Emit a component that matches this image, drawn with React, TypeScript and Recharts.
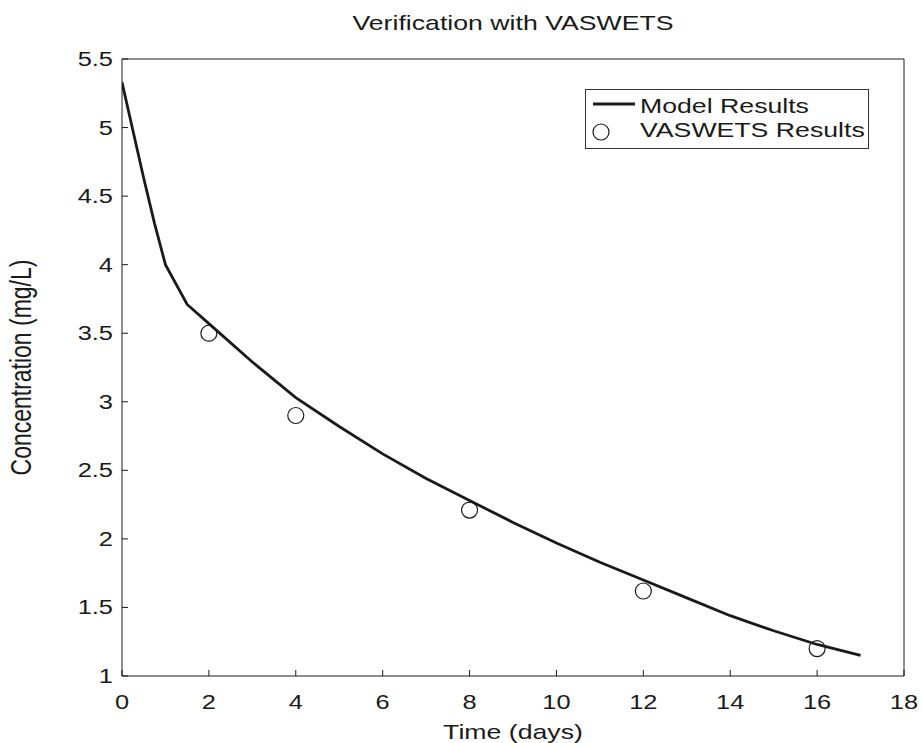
import {
  ComposedChart, Line, Scatter, XAxis, YAxis, Legend, Label,
} from 'recharts'

// Model curve
const modelDays = [0, 0.25, 0.5, 0.75, 1, 1.5, 2, 3, 4, 5, 6, 7, 8, 9, 10, 11, 12, 13, 14, 15, 16, 17]
const modelConc = [5.33, 4.98, 4.63, 4.3, 4.0, 3.71, 3.57, 3.29, 3.03, 2.82, 2.62, 2.44, 2.28, 2.12, 1.97, 1.83, 1.7, 1.57, 1.44, 1.33, 1.23, 1.15]

// VASWETS points
const vasDays = [2, 4, 8, 12, 16]
const vasConc = [3.5, 2.9, 2.21, 1.62, 1.2]

const xTicks = [0, 2, 4, 6, 8, 10, 12, 14, 16, 18]
const yTicks = [1, 1.5, 2, 2.5, 3, 3.5, 4, 4.5, 5, 5.5]

const modelData = modelDays.map((d, i) => ({ day: d, conc: modelConc[i] }))
const vasData = vasDays.map((d, i) => ({ day: d, conc: vasConc[i] }))

const FONT = '"Liberation Sans", Arial, Helvetica, sans-serif'
const INK = '#1a1a1a'
// the scan is stretched sideways, so the text gets widened to match
const SX = 1.27

function WideText({ x, y, anchor = 'middle', size = 21, children }: {
  x: number; y: number; anchor?: 'start' | 'middle' | 'end'; size?: number; children: string
}) {
  return (
    <text
      transform={`translate(${x},${y}) scale(${SX},1)`}
      textAnchor={anchor} fontFamily={FONT} fontSize={size} fill={INK}
    >
      {children}
    </text>
  )
}

function XTick({ x, y, payload }: any) {
  return <WideText x={x} y={y + 39} size={20}>{String(payload.value)}</WideText>
}

function YTick({ x, y, payload }: any) {
  return <WideText x={x} y={y + 7} anchor="end" size={20}>{String(payload.value)}</WideText>
}

function Circle({ cx, cy }: any) {
  return <circle cx={cx} cy={cy} r={8} fill="none" stroke={INK} strokeWidth={1.2} />
}

function LegendBox() {
  return (
    <svg width={285} height={61} style={{ display: 'block' }}>
      <rect x={0.5} y={0.5} width={283} height={59} fill="#fff" stroke="#333" />
      <line x1={8} x2={50} y1={15} y2={15} stroke={INK} strokeWidth={2.8} />
      <circle cx={16} cy={43} r={8} fill="none" stroke={INK} strokeWidth={1.2} />
      <WideText x={55} y={24} anchor="start">Model Results</WideText>
      <WideText x={55} y={48} anchor="start">VASWETS Results</WideText>
    </svg>
  )
}

export default function App() {
  return (
    <div style={{ position: 'absolute', left: 0, top: 0, background: '#fff' }}>
      <ComposedChart width={922} height={743} margin={{ top: 59, right: 18, bottom: 37, left: 62 }}>
        <XAxis
          dataKey="day" type="number" domain={[0, 18]} ticks={xTicks}
          height={30} tickSize={-6} tickMargin={0} tick={<XTick />}
          stroke={INK} allowDataOverflow
        >
          <Label content={({ viewBox }: any) => (
            <WideText x={viewBox.x + viewBox.width / 2} y={739}>Time (days)</WideText>
          )} />
        </XAxis>
        <XAxis
          xAxisId="top" orientation="top" mirror type="number" domain={[0, 18]}
          ticks={xTicks} tick={false} tickSize={6} stroke={INK}
        >
          <Label content={({ viewBox }: any) => (
            <WideText x={viewBox.x + viewBox.width / 2} y={30}>Verification with VASWETS</WideText>
          )} />
        </XAxis>
        <YAxis
          type="number" domain={[1, 5.5]} ticks={yTicks} width={60}
          tickSize={-6} tickMargin={15} tick={<YTick />} stroke={INK} allowDataOverflow
        >
          <Label content={({ viewBox }: any) => (
            <g transform={`translate(31,${viewBox.y + viewBox.height / 2}) scale(${SX},1) rotate(-90)`}>
              <text textAnchor="middle" fontFamily={FONT} fontSize={23} fill={INK}>Concentration (mg/L)</text>
            </g>
          )} />
        </YAxis>
        <YAxis
          yAxisId="right" orientation="right" mirror type="number" domain={[1, 5.5]}
          ticks={yTicks} tick={false} tickSize={6} stroke={INK}
        />
        <Legend
          layout="horizontal" verticalAlign="middle" align="center"
          wrapperStyle={{ left: 585, top: 89, width: 285, height: 61 }}
          content={() => <LegendBox />}
        />
        <Line
          data={modelData} dataKey="conc" type="linear" stroke={INK} strokeWidth={2.8}
          dot={false} activeDot={false} isAnimationActive={false} name="Model Results"
        />
        <Scatter
          data={vasData} dataKey="conc" shape={<Circle />}
          isAnimationActive={false} name="VASWETS Results"
        />
      </ComposedChart>
    </div>
  )
}
